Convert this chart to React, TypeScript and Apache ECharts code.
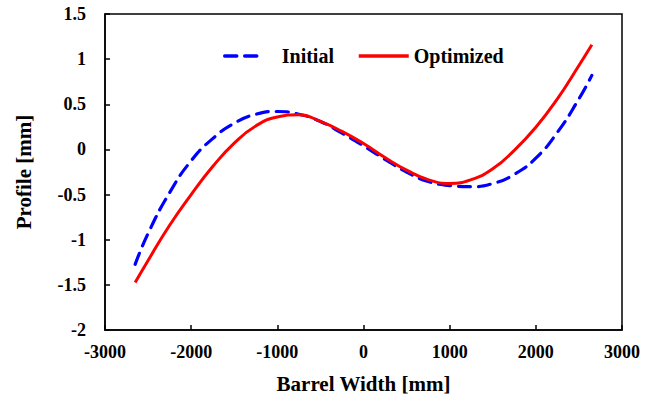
import React, { useEffect, useRef } from "react";
import * as echarts from "echarts";

const xValues = [-2650, -2500, -2250, -2000, -1750, -1500, -1250, -1000, -750, -500, -250, 0, 250, 500, 750, 1000, 1250, 1500, 1750, 2000, 2250, 2500, 2650];
const initialValues = [-1.273, -0.93, -0.478, -0.125, 0.12, 0.29, 0.389, 0.42, 0.39, 0.31, 0.18, 0.04, -0.11, -0.25, -0.355, -0.4, -0.413, -0.378, -0.276, -0.096, 0.189, 0.56, 0.82];
const optimizedValues = [-1.475, -1.23, -0.84, -0.5, -0.19, 0.07, 0.26, 0.36, 0.385, 0.31, 0.2, 0.065, -0.09, -0.23, -0.335, -0.376, -0.335, -0.215, -0.01, 0.245, 0.56, 0.93, 1.16];
const seriesNames = ["Initial", "Optimized"];

const FONT = "Liberation Serif";

export default function App() {
  const ref = useRef<HTMLDivElement>(null);
  useEffect(() => {
    if (!ref.current) return;
    const chart = echarts.init(ref.current, undefined, { renderer: "svg" });
    const textStyle = { fontFamily: FONT, fontWeight: "bold" as const, color: "#000", fontSize: 18 };
    chart.setOption({
      animation: false,
      textStyle: { fontFamily: FONT },
      grid: {
        left: 105, top: 14, right: 35, bottom: 68,
        show: true, borderColor: "#000", borderWidth: 1.5, containLabel: false,
      },
      legend: [
        {
          data: [seriesNames[0]], left: 223, top: 46, padding: 0, itemWidth: 40, itemHeight: 14,
          itemStyle: { opacity: 0 },
          lineStyle: { width: 3.5 },
          textStyle: { ...textStyle, fontSize: 20, padding: [0, 0, 0, 12] },
        },
        {
          data: [seriesNames[1]], left: 357, top: 46, padding: 0, itemWidth: 50, itemHeight: 14,
          itemStyle: { opacity: 0 },
          lineStyle: { width: 3.5 },
          textStyle: { ...textStyle, fontSize: 20, padding: [0, 0, 0, 0] },
        },
      ],
      xAxis: {
        type: "value", min: -3000, max: 3000, interval: 1000,
        name: "Barrel Width [mm]", nameLocation: "middle", nameGap: 43,
        nameTextStyle: { ...textStyle, fontSize: 21 },
        axisLine: { show: true, onZero: false, lineStyle: { color: "#000", width: 1.5 } },
        axisTick: { show: true, inside: true, length: 5, lineStyle: { color: "#000", width: 1.5 } },
        axisLabel: { ...textStyle, margin: 13, formatter: (v: number) => String(v) },
        splitLine: { show: false },
      },
      yAxis: {
        type: "value", min: -2, max: 1.5, interval: 0.5,
        name: "Profile [mm]", nameLocation: "middle", nameGap: 71,
        nameTextStyle: { ...textStyle, fontSize: 21 },
        axisLine: { show: true, onZero: false, lineStyle: { color: "#000", width: 1.5 } },
        axisTick: { show: true, inside: true, length: 5, lineStyle: { color: "#000", width: 1.5 } },
        axisLabel: { ...textStyle, margin: 19, formatter: (v: number) => String(v) },
        splitLine: { show: false },
      },
      series: [
        {
          name: seriesNames[0], type: "line", smooth: true, showSymbol: false, symbol: "none",
          data: xValues.map((x, i) => [x, initialValues[i]]),
          lineStyle: { color: "#0000FF", width: 3.2, type: [12, 8], cap: "round" },
          itemStyle: { color: "#0000FF" },
          z: 2,
        },
        {
          name: seriesNames[1], type: "line", smooth: true, showSymbol: false, symbol: "none",
          data: xValues.map((x, i) => [x, optimizedValues[i]]),
          lineStyle: { color: "#FF0000", width: 3, type: "solid" },
          itemStyle: { color: "#FF0000" },
          z: 3,
        },
      ],
    });
    return () => chart.dispose();
  }, []);
  return <div ref={ref} style={{ width: 657, height: 399, position: "absolute", left: 0, top: 0 }} />;
}
